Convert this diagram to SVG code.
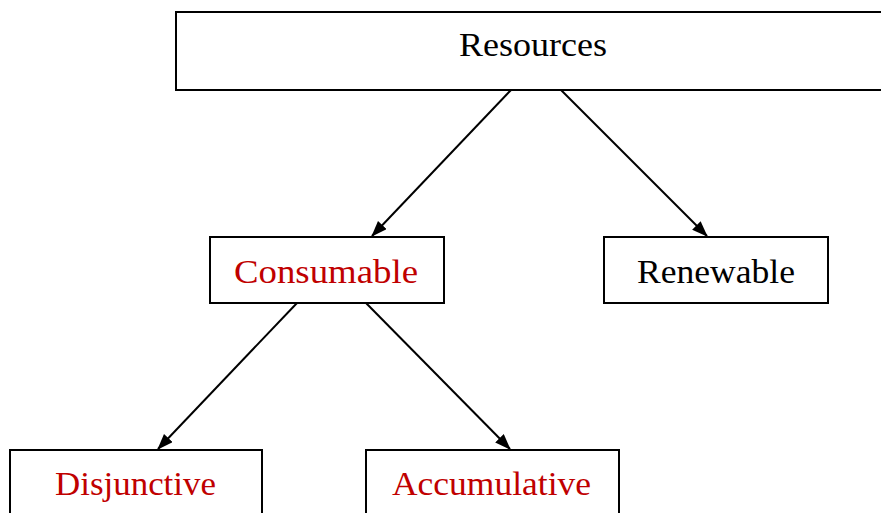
<svg xmlns="http://www.w3.org/2000/svg" width="881" height="513" viewBox="0 0 881 513">
  <style>
    .box { fill: #ffffff; stroke: #000000; stroke-width: 2; }
    .lbl { font-family: "Liberation Serif", "Times New Roman", serif; font-size: 33px; text-anchor: middle; }
    .black { fill: #000000; }
    .red { fill: #c00000; }
    .edge { stroke: #000000; stroke-width: 2; fill: none; marker-end: url(#arrow); }
  </style>
  <defs>
    <marker id="arrow" viewBox="0 0 16 12" refX="15" refY="6" markerWidth="16" markerHeight="12" markerUnits="userSpaceOnUse" orient="auto">
      <path d="M0,0 L16,6 L0,12 z" fill="#000000"/>
    </marker>
  </defs>
  <rect width="881" height="513" fill="#ffffff"/>

  <g id="connectors">
    <line class="edge" x1="511" y1="90" x2="372" y2="236"/>
    <line class="edge" x1="561" y1="90" x2="707" y2="236"/>
    <line class="edge" x1="297" y1="303" x2="158" y2="449"/>
    <line class="edge" x1="366" y1="303" x2="510" y2="449"/>
  </g>

  <g id="resources">
    <rect class="box" x="176" y="12" width="720" height="78"/>
    <text class="lbl black" x="533" y="56" textLength="148" lengthAdjust="spacingAndGlyphs">Resources</text>
  </g>
  <g id="consumable">
    <rect class="box" x="210" y="237" width="234" height="66"/>
    <text class="lbl red" x="326" y="283" textLength="184" lengthAdjust="spacingAndGlyphs">Consumable</text>
  </g>
  <g id="renewable">
    <rect class="box" x="604" y="237" width="224" height="66"/>
    <text class="lbl black" x="716" y="283" textLength="158" lengthAdjust="spacingAndGlyphs">Renewable</text>
  </g>
  <g id="disjunctive">
    <rect class="box" x="10" y="450" width="252" height="80"/>
    <text class="lbl red" x="135.5" y="495" textLength="161" lengthAdjust="spacingAndGlyphs">Disjunctive</text>
  </g>
  <g id="accumulative">
    <rect class="box" x="366" y="450" width="253" height="80"/>
    <text class="lbl red" x="491.5" y="495" textLength="199" lengthAdjust="spacingAndGlyphs">Accumulative</text>
  </g>
</svg>
